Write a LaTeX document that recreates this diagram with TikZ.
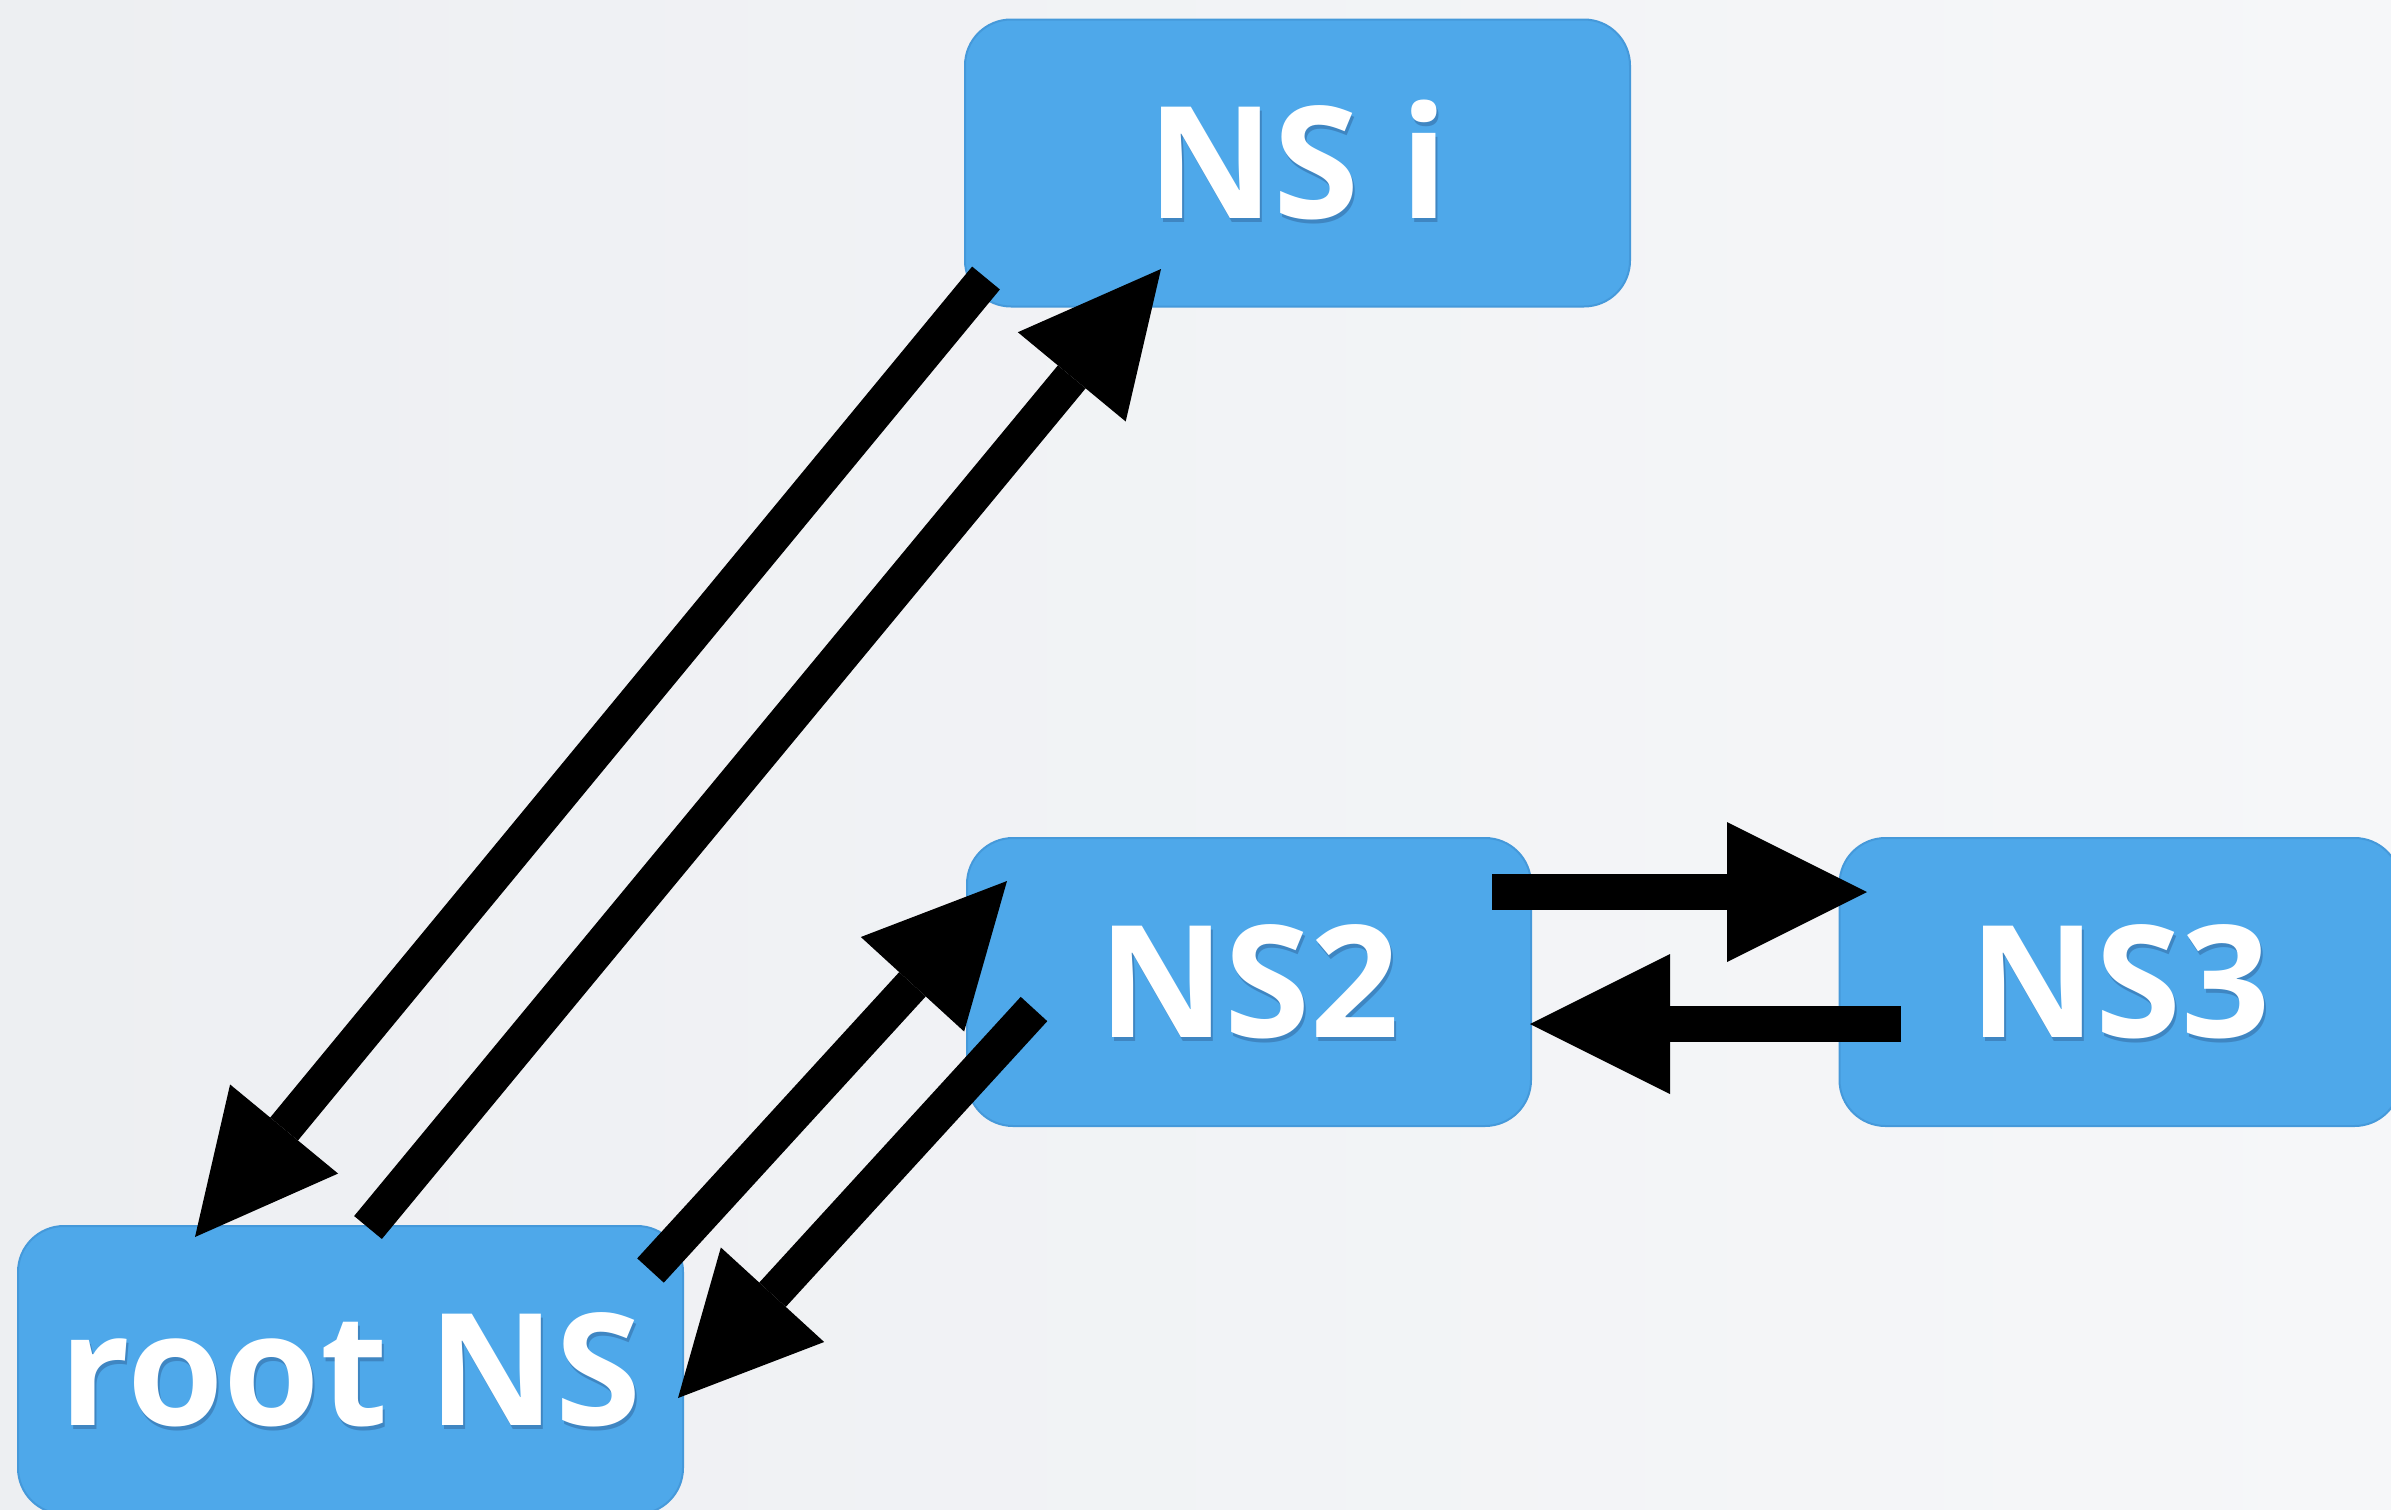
\documentclass[tikz,border=0pt]{standalone}
\usepackage{fontspec}
\newfontfamily\boxfont{Open Sans}
\usetikzlibrary{arrows.meta}
\definecolor{boxblue}{HTML}{4EA8EA}
\definecolor{boxedge}{HTML}{4599DA}
\definecolor{shadowblue}{HTML}{3F86C2}
\definecolor{bgleft}{HTML}{EDEFF2}
\definecolor{bgright}{HTML}{F6F7F9}
\newcommand\shadowed[1]{\makebox[0pt][l]{\hspace{2pt}\raisebox{-4pt}{\textcolor{shadowblue}{#1}}}#1}
\begin{document}
\begin{tikzpicture}[x=1pt,y=-1pt,
  nsbox/.style={draw=boxedge, line width=2pt, fill=boxblue, rounded corners=46pt,
    text=white, font=\boxfont\bfseries\fontsize{156pt}{160pt}\selectfont,
    inner sep=0pt, text height=111pt, text depth=0pt, anchor=center},
  flow/.style={line width=36pt, line cap=butt, draw=black,
    -{Triangle[length=140pt,width=140pt,line width=0pt]}}]
\useasboundingbox (0,0) rectangle (2391,1510);
\clip (0,0) rectangle (2391,1510);
\shade[left color=bgleft, right color=bgright] (0,0) rectangle (2391,1510);

\node[nsbox, minimum width=665pt, minimum height=287pt] (nsi) at (1297.5,163) {\shadowed{NS i}};
\node[nsbox, minimum width=564pt, minimum height=288pt] (ns2) at (1249,982) {\shadowed{NS2}};
\node[nsbox, minimum width=561pt, minimum height=288pt] (ns3) at (2120,982) {\shadowed{NS3}};
\node[nsbox, minimum width=665pt, minimum height=288pt] (root) at (350.5,1370) {\shadowed{root NS}};

\coordinate (aFrom) at (986,278);
\coordinate (aTo)   at (195,1237);
\coordinate (bFrom) at (368,1227.5);
\coordinate (bTo)   at (1161,269);
\coordinate (cFrom) at (650.5,1270.5);
\coordinate (cTo)   at (1007,881);
\coordinate (dFrom) at (1034,1009);
\coordinate (dTo)   at (678,1398);
\coordinate (eFrom) at (1492,892);
\coordinate (eTo)   at (1867,892);
\coordinate (fFrom) at (1901,1024);
\coordinate (fTo)   at (1530,1024);

\draw[flow] (aFrom) -- (aTo);
\draw[flow] (bFrom) -- (bTo);
\draw[flow] (cFrom) -- (cTo);
\draw[flow] (dFrom) -- (dTo);
\draw[flow] (eFrom) -- (eTo);
\draw[flow] (fFrom) -- (fTo);
\end{tikzpicture}
\end{document}
